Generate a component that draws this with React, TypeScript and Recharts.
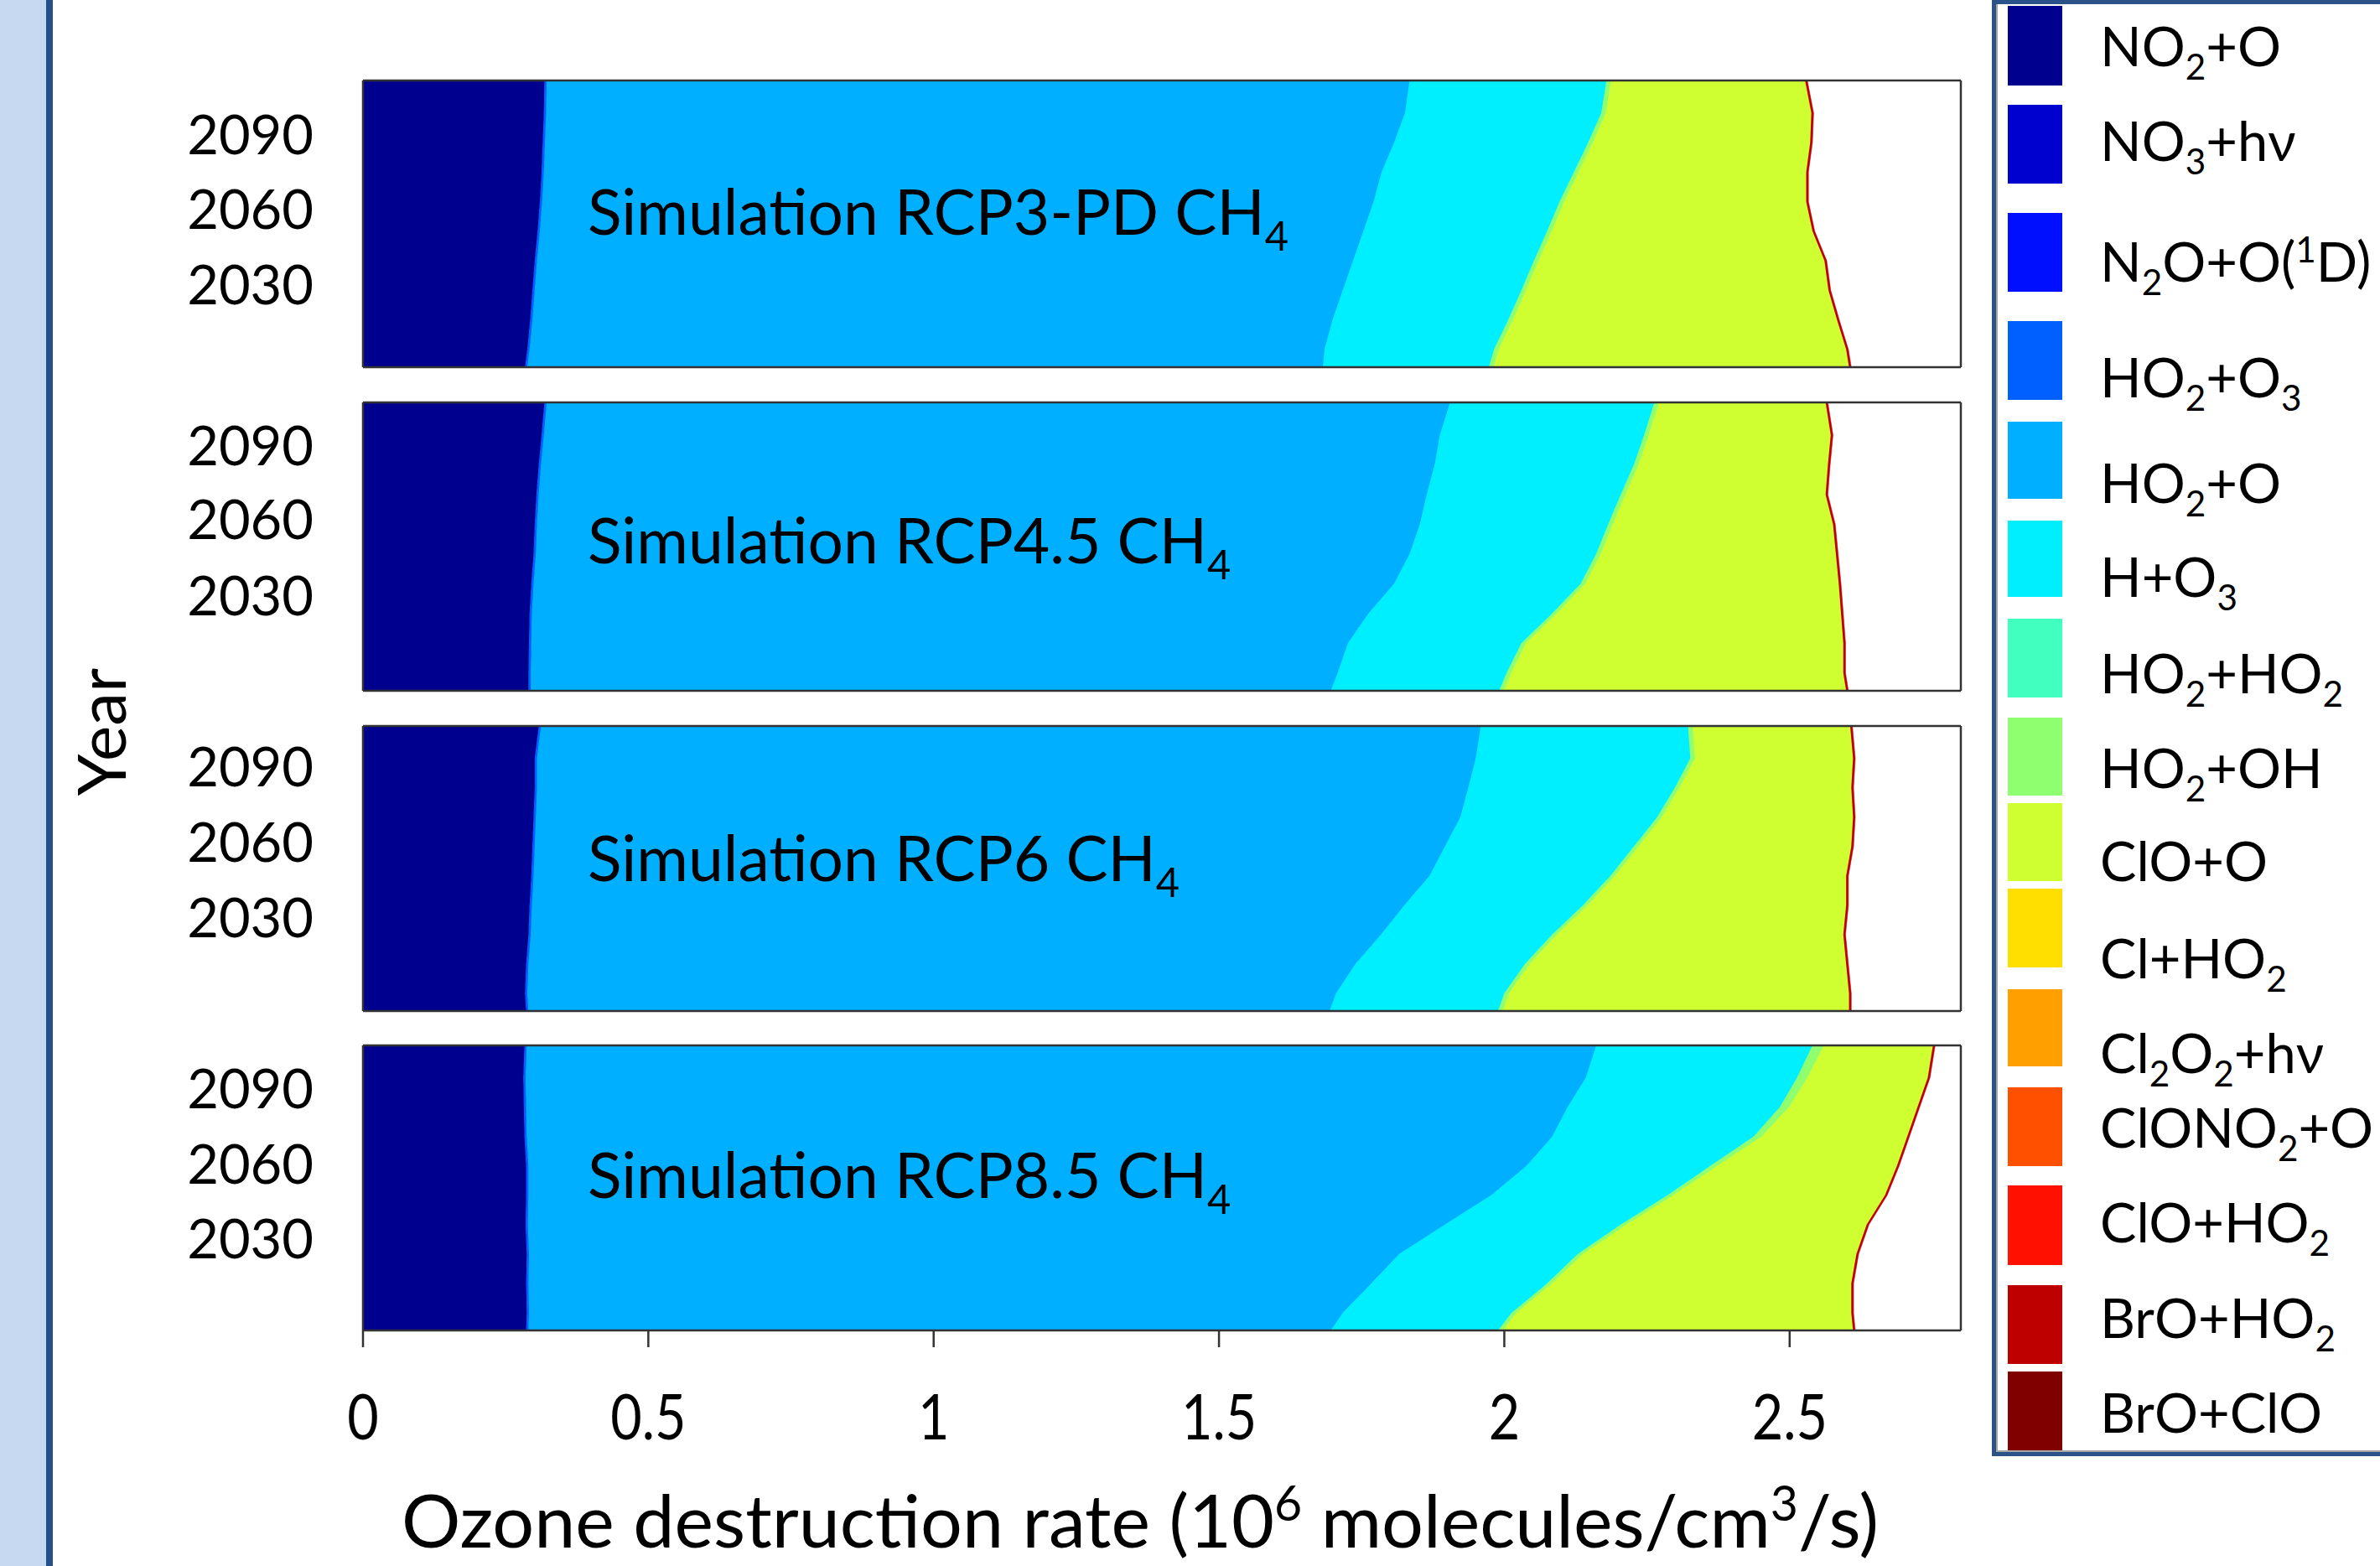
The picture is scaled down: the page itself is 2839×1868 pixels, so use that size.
import React from "react";
import { AreaChart, Area, XAxis, YAxis } from "recharts";

const FONT = "Lato, 'Open Sans', sans-serif";
const AXIS = "#333333";

// rows of each panel, bottom to top
const YEARS = [2004, 2010, 2020, 2030, 2040, 2050, 2060, 2070, 2080, 2090, 2101];
const X_TICKS = [0, 0.5, 1, 1.5, 2, 2.5];
const Y_TICKS = [2004, 2020, 2055, 2090];
const YEAR_LABELS = ["2090", "2060", "2030"];

// RCP3-PD CH4
const RCP3PD_NO2_O = [0.284, 0.288, 0.293, 0.297, 0.301, 0.306, 0.31, 0.313, 0.315, 0.317, 0.318];
const RCP3PD_HO2_O3 = [0.004, 0.004, 0.004, 0.004, 0.004, 0.004, 0.004, 0.004, 0.004, 0.004, 0.004];
const RCP3PD_HO2_O = [1.394, 1.393, 1.402, 1.416, 1.43, 1.443, 1.457, 1.468, 1.488, 1.505, 1.512];
const RCP3PD_H_O3 = [0.291, 0.297, 0.308, 0.313, 0.317, 0.322, 0.326, 0.337, 0.34, 0.344, 0.345];
const RCP3PD_HO2_OH = [0.008, 0.008, 0.008, 0.008, 0.008, 0.008, 0.008, 0.008, 0.008, 0.008, 0.008];
const RCP3PD_CLO_O = [0.623, 0.609, 0.568, 0.53, 0.501, 0.457, 0.424, 0.399, 0.381, 0.36, 0.34];
const RCP3PD_BRO_HO2 = [0.004, 0.004, 0.004, 0.004, 0.004, 0.004, 0.004, 0.004, 0.004, 0.004, 0.004];

// RCP4.5 CH4
const RCP45_NO2_O = [0.29, 0.29, 0.291, 0.292, 0.295, 0.299, 0.301, 0.304, 0.308, 0.313, 0.318];
const RCP45_HO2_O3 = [0.004, 0.004, 0.004, 0.004, 0.004, 0.004, 0.004, 0.004, 0.004, 0.004, 0.004];
const RCP45_HO2_O = [1.402, 1.414, 1.431, 1.466, 1.508, 1.531, 1.547, 1.556, 1.566, 1.57, 1.583];
const RCP45_H_O3 = [0.295, 0.296, 0.304, 0.322, 0.327, 0.327, 0.33, 0.34, 0.349, 0.358, 0.358];
const RCP45_HO2_OH = [0.008, 0.008, 0.008, 0.008, 0.008, 0.008, 0.008, 0.008, 0.008, 0.008, 0.008];
const RCP45_CLO_O = [0.6, 0.582, 0.556, 0.498, 0.444, 0.412, 0.386, 0.351, 0.332, 0.319, 0.292];
const RCP45_BRO_HO2 = [0.004, 0.004, 0.004, 0.004, 0.004, 0.004, 0.004, 0.004, 0.004, 0.004, 0.004];

// RCP6 CH4
const RCP6_NO2_O = [0.286, 0.284, 0.286, 0.29, 0.292, 0.295, 0.297, 0.299, 0.301, 0.301, 0.308];
const RCP6_HO2_O3 = [0.004, 0.004, 0.004, 0.004, 0.004, 0.004, 0.004, 0.004, 0.004, 0.004, 0.004];
const RCP6_HO2_O = [1.404, 1.417, 1.449, 1.49, 1.529, 1.57, 1.595, 1.62, 1.632, 1.645, 1.647];
const RCP6_H_O3 = [0.295, 0.295, 0.297, 0.3, 0.313, 0.317, 0.331, 0.345, 0.362, 0.376, 0.363];
const RCP6_HO2_OH = [0.008, 0.008, 0.008, 0.008, 0.008, 0.008, 0.008, 0.008, 0.008, 0.008, 0.008];
const RCP6_CLO_O = [0.607, 0.596, 0.555, 0.502, 0.453, 0.405, 0.373, 0.335, 0.301, 0.277, 0.276];
const RCP6_BRO_HO2 = [0.004, 0.004, 0.004, 0.004, 0.004, 0.004, 0.004, 0.004, 0.004, 0.004, 0.004];

// RCP8.5 CH4
const RCP85_NO2_O = [0.286, 0.287, 0.286, 0.287, 0.285, 0.286, 0.286, 0.283, 0.282, 0.281, 0.283];
const RCP85_HO2_O3 = [0.004, 0.004, 0.004, 0.004, 0.004, 0.004, 0.004, 0.004, 0.004, 0.004, 0.004];
const RCP85_HO2_O = [1.406, 1.426, 1.477, 1.525, 1.607, 1.687, 1.749, 1.797, 1.825, 1.858, 1.874];
const RCP85_H_O3 = [0.293, 0.296, 0.308, 0.313, 0.308, 0.309, 0.322, 0.353, 0.372, 0.37, 0.379];
const RCP85_HO2_OH = [0.008, 0.008, 0.008, 0.009, 0.01, 0.01, 0.012, 0.014, 0.016, 0.018, 0.02];
const RCP85_CLO_O = [0.614, 0.587, 0.525, 0.479, 0.421, 0.371, 0.315, 0.255, 0.225, 0.211, 0.191];
const RCP85_BRO_HO2 = [0.004, 0.004, 0.004, 0.004, 0.004, 0.004, 0.004, 0.004, 0.004, 0.004, 0.004];

const REACTIONS = [
  "NO_2+O", "NO_3+hν", "N_2O+O(^1D)", "HO_2+O_3", "HO_2+O", "H+O_3", "HO_2+HO_2", "HO_2+OH",
  "ClO+O", "Cl+HO_2", "Cl_2O_2+hν", "ClONO_2+O", "ClO+HO_2", "BrO+HO_2", "BrO+ClO",
];
const REACTION_COLORS = [
  "#00008f", "#0000cf", "#0010ff", "#0060ff", "#00afff", "#00efff", "#40ffbf", "#8fff70",
  "#cfff30", "#ffdf00", "#ff9f00", "#ff5000", "#ff1000", "#bf0000", "#800000",
];

// stacked series drawn in every panel -> index into REACTIONS
const SERIES_KEYS = ["no2o", "ho2o3", "ho2o", "ho3", "ho2oh", "cloo", "brho2"];
const SERIES_REACTION = [0, 3, 4, 5, 7, 8, 13];

const PANELS = [
  { name: "RCP3-PD", values: [RCP3PD_NO2_O, RCP3PD_HO2_O3, RCP3PD_HO2_O, RCP3PD_H_O3, RCP3PD_HO2_OH, RCP3PD_CLO_O, RCP3PD_BRO_HO2] },
  { name: "RCP4.5", values: [RCP45_NO2_O, RCP45_HO2_O3, RCP45_HO2_O, RCP45_H_O3, RCP45_HO2_OH, RCP45_CLO_O, RCP45_BRO_HO2] },
  { name: "RCP6", values: [RCP6_NO2_O, RCP6_HO2_O3, RCP6_HO2_O, RCP6_H_O3, RCP6_HO2_OH, RCP6_CLO_O, RCP6_BRO_HO2] },
  { name: "RCP8.5", values: [RCP85_NO2_O, RCP85_HO2_O3, RCP85_HO2_O, RCP85_H_O3, RCP85_HO2_OH, RCP85_CLO_O, RCP85_BRO_HO2] },
];

// layout (pixels)
const PLOT_LEFT = 433;
const PLOT_W = 1906;
const PANEL_TOP = [96, 480, 866, 1247];
const PANEL_H = [342, 344, 340, 340];
const TITLE_BASE = [280, 672, 1051, 1429];
const YEAR_LABEL_Y = [[161, 250, 340], [532, 620, 711], [915, 1005, 1095], [1299, 1389, 1478]];
const LEGEND_SWATCH = [
  [7, 102], [125, 219], [254, 348], [383, 477], [503, 595], [621, 712], [738, 832], [856, 949],
  [958, 1051], [1060, 1154], [1180, 1272], [1297, 1391], [1414, 1509], [1533, 1627], [1636, 1730],
];
const LEGEND_BASE = [79, 192, 336, 474, 600, 712, 827, 940, 1051, 1167, 1280, 1369, 1482, 1596, 1709];

// "_x" = subscript char, "^x" = superscript char
function rich(text: string, size: number) {
  const parts: { t: string; k: string }[] = [];
  let i = 0;
  while (i < text.length) {
    const c = text[i];
    if ((c === "_" || c === "^") && i + 1 < text.length) {
      parts.push({ t: text[i + 1], k: c });
      i += 2;
    } else {
      let j = i;
      while (j < text.length && text[j] !== "_" && text[j] !== "^") j++;
      parts.push({ t: text.slice(i, j), k: "" });
      i = j;
    }
  }
  const off = (k: string) => (k === "_" ? 0.25 : k === "^" ? -0.36 : 0);
  return parts.map((p, n) => {
    const prev = n > 0 ? parts[n - 1].k : "";
    return (
      <tspan key={n} dy={(off(p.k) - off(prev)) * size} fontSize={p.k ? size * 0.65 : size}>
        {p.t}
      </tspan>
    );
  });
}

const XTick = (props: any) => {
  const { x, y, payload } = props;
  return (
    <g transform={`translate(${x},${y})`}>
      <text x={0} y={100} textAnchor="middle" fontSize={76} fontFamily={FONT} fill="#000" transform="scale(0.85,1)">
        {payload.value}
      </text>
    </g>
  );
};

function Panel({ idx }: { idx: number }) {
  const p = PANELS[idx];
  const rows = YEARS.map((year, i) => {
    const r: Record<string, number> = { year };
    SERIES_KEYS.forEach((k, s) => {
      r[k] = p.values[s][i];
    });
    return r;
  });
  const last = idx === PANELS.length - 1;
  const bottomH = last ? 180 : 20;
  const line = { stroke: AXIS, strokeWidth: 2.5 };
  return (
    <div style={{ position: "absolute", left: PLOT_LEFT - 20, top: PANEL_TOP[idx] - 20 }}>
      <AreaChart
        layout="vertical"
        width={PLOT_W + 40}
        height={PANEL_H[idx] + 20 + bottomH}
        data={rows}
        margin={{ top: 0, right: 0, bottom: 0, left: 0 }}
      >
        {SERIES_KEYS.map((k, s) => (
          <Area
            key={k}
            type="linear"
            dataKey={k}
            stackId="rate"
            xAxisId="b"
            yAxisId="l"
            fill={REACTION_COLORS[SERIES_REACTION[s]]}
            fillOpacity={1}
            stroke={REACTION_COLORS[SERIES_REACTION[s]]}
            strokeWidth={k === "brho2" ? 0.5 : 1}
            dot={false}
            activeDot={false}
            isAnimationActive={false}
          />
        ))}
        <XAxis
          xAxisId="b"
          type="number"
          orientation="bottom"
          domain={[0, 2.8]}
          ticks={X_TICKS}
          interval={0}
          height={bottomH}
          tickSize={20}
          tickMargin={10}
          axisLine={line}
          tickLine={line}
          tick={last ? <XTick /> : false}
        />
        <XAxis
          xAxisId="t"
          type="number"
          orientation="top"
          domain={[0, 2.8]}
          ticks={X_TICKS}
          interval={0}
          height={20}
          tickSize={20}
          axisLine={line}
          tickLine={line}
          tick={false}
        />
        <YAxis
          yAxisId="l"
          type="number"
          dataKey="year"
          orientation="left"
          domain={[2004, 2101]}
          ticks={Y_TICKS}
          interval={0}
          reversed
          width={20}
          tickSize={20}
          axisLine={line}
          tickLine={line}
          tick={false}
        />
        <YAxis
          yAxisId="r"
          type="number"
          dataKey="year"
          orientation="right"
          domain={[2004, 2101]}
          ticks={Y_TICKS}
          interval={0}
          reversed
          width={20}
          tickSize={20}
          axisLine={line}
          tickLine={line}
          tick={false}
        />
      </AreaChart>
    </div>
  );
}

export default function App() {
  return (
    <div
      style={{
        position: "absolute",
        left: 0,
        top: 0,
        width: 2839,
        height: 1868,
        background: "#ffffff",
        overflow: "hidden",
        fontFamily: FONT,
      }}
    >
      <div style={{ position: "absolute", left: 0, top: 0, width: 55, height: 1868, background: "#c6d9f1" }} />
      <div style={{ position: "absolute", left: 55, top: 0, width: 8, height: 1868, background: "#26508a" }} />

      <div
        style={{
          position: "absolute",
          left: 2376,
          top: 0,
          width: 500,
          height: 1737,
          boxSizing: "border-box",
          border: "5px solid #2b5289",
        }}
      >
        <div style={{ position: "absolute", left: 0, top: 0, width: 2, bottom: 0, background: "#a6a6a6" }} />
        <div style={{ position: "absolute", left: 0, right: 0, height: 2, bottom: 0, background: "#a6a6a6" }} />
      </div>

      {PANELS.map((_, i) => (
        <Panel key={i} idx={i} />
      ))}

      <svg
        width={2839}
        height={1868}
        style={{ position: "absolute", left: 0, top: 0, pointerEvents: "none" }}
        fontFamily={FONT}
      >
        {PANELS.map((p, i) => (
          <g key={p.name}>
            {YEAR_LABELS.map((lab, j) => (
              <text key={lab} x={374} y={YEAR_LABEL_Y[i][j] + 23} textAnchor="end" fontSize={65} fill="#000">
                {lab}
              </text>
            ))}
            <text x={701} y={TITLE_BASE[i]} fill="#000">
              {rich(`Simulation ${p.name} CH_4`, 75)}
            </text>
          </g>
        ))}

        <text transform="translate(150,873) rotate(-90)" textAnchor="middle" fontSize={80} fill="#000">
          Year
        </text>
        <text x={1360} y={1846} textAnchor="middle" fill="#000">
          {rich("Ozone destruction rate (10^6 molecules/cm^3/s)", 88)}
        </text>

        {REACTIONS.map((r, i) => (
          <g key={r}>
            <rect
              x={2395}
              y={LEGEND_SWATCH[i][0]}
              width={65}
              height={LEGEND_SWATCH[i][1] - LEGEND_SWATCH[i][0]}
              fill={REACTION_COLORS[i]}
            />
            <text x={2505} y={LEGEND_BASE[i]} fill="#000">
              {rich(r, 65)}
            </text>
          </g>
        ))}
      </svg>
    </div>
  );
}
